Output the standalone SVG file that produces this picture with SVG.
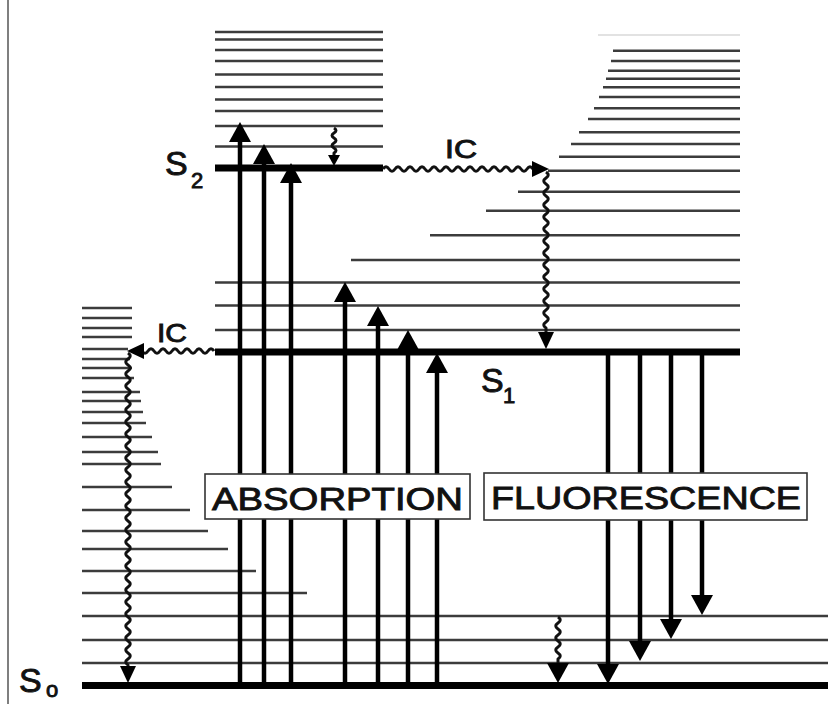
<svg xmlns="http://www.w3.org/2000/svg" width="839" height="704" viewBox="0 0 839 704">
<style>
.v{stroke:#3c3c3c;stroke-width:2.4;fill:none}
.vf{stroke:#e2e2e2;stroke-width:2;fill:none}
.lvl{stroke:#000;stroke-width:7;fill:none}
.arr{stroke:#000;stroke-width:4.5;fill:none}
.wav{stroke:#111;stroke-width:3;fill:none;stroke-linejoin:round}
.lab{font-family:"Liberation Sans",Arial,sans-serif;fill:#111;stroke:#111;stroke-width:0.9}
.box{fill:#fff;stroke:#333;stroke-width:1.6}
</style>
<defs>
<marker id="ah" viewBox="0 0 20 22" markerWidth="20" markerHeight="22" refX="12" refY="11" orient="auto" markerUnits="userSpaceOnUse"><path d="M0,0 L20,11 L0,22 z" fill="#000"/></marker>
<marker id="aw" viewBox="0 0 17 16" markerWidth="17" markerHeight="16" refX="9" refY="8" orient="auto" markerUnits="userSpaceOnUse"><path d="M0,0 L17,8 L0,16 z" fill="#000"/></marker>
<marker id="as" viewBox="0 0 11 12" markerWidth="11" markerHeight="12" refX="2" refY="6" orient="auto" markerUnits="userSpaceOnUse"><path d="M0,0 L11,6 L0,12 z" fill="#000"/></marker>
</defs>
<rect width="839" height="704" fill="#fff"/>
<line x1="8" y1="0" x2="8" y2="704" stroke="#555" stroke-width="1.5"/>

<g id="S2">
<path class="v" d="M215,32H383M215,39.5H383M215,50H383M215,61H383M215,74.5H383M215,87H383M215,99.5H383M215,111H383M215,126H383M215,146.5H383"/>
<line class="lvl" x1="215" y1="168" x2="383" y2="168"/>
<text class="lab" x="165" y="175" font-size="34">S</text>
<text class="lab" x="191" y="188" font-size="22">2</text>
</g>

<g id="S1">
<path class="vf" d="M598,35H740"/>
<path class="v" d="M613,50.7H740M611,61H740M608,70.7H740M606,78.7H740M603,87.3H740M599,97H740M594,108.3H740M588,119H740M579,132.3H740M571,144H740M559,156.7H740M548,170.7H740M518,191.7H740M486,210.7H740M430,235.3H740M351,260H740M215,282.5H740M215,305.5H740M215,330H740"/>
<line class="lvl" x1="215" y1="352" x2="740" y2="352"/>
<text class="lab" x="481" y="391.5" font-size="34">S</text>
<text class="lab" x="503" y="403" font-size="22">1</text>
</g>

<g id="S0">
<path class="v" d="M82,308H132M82,318H132M82,328H132M82,337H132M82,349H128M82,359H130M82,368H132M82,378H134M82,392H140M82,401H141M82,412H143M82,423H146M82,437H152M82,452H158M82,464H161M82,487H172M82,510H190M82,531H208M82,549H228M82,571H256M82,593H307M82,616H828M82,640H828M82,663H828"/>
<line class="lvl" x1="82" y1="685.5" x2="828" y2="685.5"/>
<text class="lab" x="19" y="692" font-size="34">S</text>
<text class="lab" x="46" y="697" font-size="22">o</text>
</g>

<g id="connectors">
<g id="absorption-arrows">
<line class="arr" x1="240" y1="685" x2="240" y2="130" marker-end="url(#ah)"/>
<line class="arr" x1="264" y1="685" x2="264" y2="152" marker-end="url(#ah)"/>
<line class="arr" x1="291" y1="685" x2="291" y2="171" marker-end="url(#ah)"/>
<line class="arr" x1="345" y1="685" x2="345" y2="290" marker-end="url(#ah)"/>
<line class="arr" x1="378" y1="685" x2="378" y2="314" marker-end="url(#ah)"/>
<line class="arr" x1="408" y1="685" x2="408" y2="338" marker-end="url(#ah)"/>
<line class="arr" x1="437" y1="685" x2="437" y2="361" marker-end="url(#ah)"/>
</g>
<g id="fluorescence-arrows">
<line class="arr" x1="608" y1="352" x2="608" y2="676" marker-end="url(#ah)"/>
<line class="arr" x1="640" y1="352" x2="640" y2="653" marker-end="url(#ah)"/>
<line class="arr" x1="671" y1="352" x2="671" y2="631" marker-end="url(#ah)"/>
<line class="arr" x1="702" y1="352" x2="702" y2="607" marker-end="url(#ah)"/>
</g>
<g id="relaxation">
<path class="wav" stroke-width="1.8" d="M334,128 q4,2.5 0,5 t0,5 t0,5 t0,5 t0,5 L334,157" marker-end="url(#as)"/>
<path class="wav" d="M383,169 q3,-4.5 6,0 t6,0 t6,0 t6,0 t6,0 t6,0 t6,0 t6,0 t6,0 t6,0 t6,0 t6,0 t6,0 t6,0 t6,0 t6,0 t6,0 t6,0 t6,0 t6,0 t6,0 t6,0 t6,0 t6,0 t6,0 t6,0 L541,169" marker-end="url(#aw)"/>
<path class="wav" d="M546,172 q4.5,3 0,6 t0,6 t0,6 t0,6 t0,6 t0,6 t0,6 t0,6 t0,6 t0,6 t0,6 t0,6 t0,6 t0,6 t0,6 t0,6 t0,6 t0,6 t0,6 t0,6 t0,6 t0,6 t0,6 t0,6 t0,6 t0,6 L546,341" marker-end="url(#aw)"/>
<path class="wav" d="M214,351 q-3,-4.5 -6,0 t-6,0 t-6,0 t-6,0 t-6,0 t-6,0 t-6,0 t-6,0 t-6,0 t-6,0 t-6,0 t-6,0 L135,351" marker-end="url(#aw)"/>
<path class="wav" d="M128,353 q4.5,3 0,6 t0,6 t0,6 t0,6 t0,6 t0,6 t0,6 t0,6 t0,6 t0,6 t0,6 t0,6 t0,6 t0,6 t0,6 t0,6 t0,6 t0,6 t0,6 t0,6 t0,6 t0,6 t0,6 t0,6 t0,6 t0,6 t0,6 t0,6 t0,6 t0,6 t0,6 t0,6 t0,6 t0,6 t0,6 t0,6 t0,6 t0,6 t0,6 t0,6 t0,6 t0,6 t0,6 t0,6 t0,6 t0,6 t0,6 t0,6 t0,6 t0,6 t0,6 t0,6 L128,675" marker-end="url(#aw)"/>
<path class="wav" d="M558,617 q4.5,3 0,6 t0,6 t0,6 t0,6 t0,6 t0,6 t0,6 L558,675" marker-end="url(#ah)"/>
</g>
<text class="lab" x="445" y="158" font-size="25" stroke-width="0.6" textLength="32" lengthAdjust="spacingAndGlyphs">IC</text>
<text class="lab" x="157" y="341.5" font-size="25" stroke-width="0.6" textLength="30" lengthAdjust="spacingAndGlyphs">IC</text>
</g>

<g id="absorption-label">
<rect class="box" x="205" y="474" width="265" height="45"/>
<text class="lab" x="212" y="510" font-size="32" textLength="251" lengthAdjust="spacingAndGlyphs">ABSORPTION</text>
</g>
<g id="fluorescence-label">
<rect class="box" x="484" y="473" width="323" height="47"/>
<text class="lab" x="491" y="509" font-size="32" textLength="310" lengthAdjust="spacingAndGlyphs">FLUORESCENCE</text>
</g>
</svg>
